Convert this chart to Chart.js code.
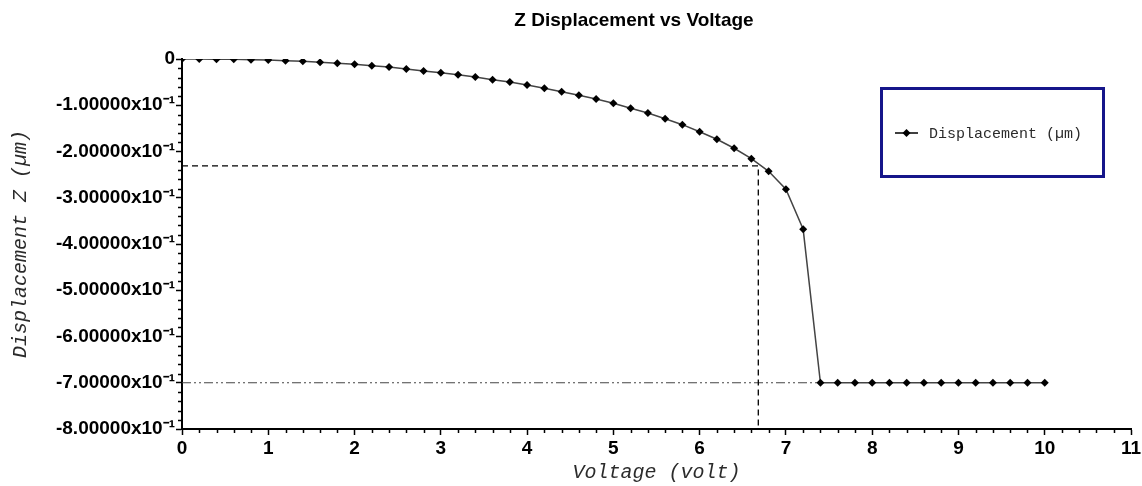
<!DOCTYPE html>
<html>
<head>
<meta charset="utf-8">
<script src="https://cdn.jsdelivr.net/npm/chart.js@4/dist/chart.umd.min.js"></script>
<style>
  body { margin: 0; background: #fff; }
</style>
</head>
<body>
<canvas id="zChart" width="1142" height="486"></canvas>
<script>
  // Data
  const voltage = [0, 0.2, 0.4, 0.6, 0.8, 1.0, 1.2, 1.4, 1.6, 1.8, 2.0, 2.2, 2.4, 2.6, 2.8, 3.0,
    3.2, 3.4, 3.6, 3.8, 4.0, 4.2, 4.4, 4.6, 4.8, 5.0, 5.2, 5.4, 5.6, 5.8, 6.0, 6.2, 6.4, 6.6,
    6.8, 7.0, 7.2, 7.4, 7.6, 7.8, 8.0, 8.2, 8.4, 8.6, 8.8, 9.0, 9.2, 9.4, 9.6, 9.8, 10.0];
  const displacement = [0, 0, -0.0003, -0.0007, -0.0015, -0.0022, -0.0037, -0.0050, -0.0071,
    -0.0093, -0.0115, -0.0145, -0.0173, -0.0216, -0.0259, -0.0296, -0.0339, -0.0389, -0.0448,
    -0.0497, -0.0562, -0.0633, -0.0709, -0.0785, -0.0865, -0.0958, -0.1066, -0.1167, -0.1291,
    -0.1420, -0.1572, -0.1736, -0.1930, -0.2156, -0.2428, -0.2817, -0.3682,
    -0.7, -0.7, -0.7, -0.7, -0.7, -0.7, -0.7, -0.7, -0.7, -0.7, -0.7, -0.7, -0.7, -0.7];

  // pull-in guide (dashed) and gap guide (dash-dot-dot)
  const pullInX = [0, 6.68, 6.68];
  const pullInY = [-0.231, -0.231, -0.8];
  const gapX = [0, 7.4];
  const gapY = [-0.7, -0.7];

  const xTickLabels = ['0', '1', '2', '3', '4', '5', '6', '7', '8', '9', '10', '11'];
  const yTickLabels = ['0', '-1.00000x10⁻¹', '-2.00000x10⁻¹', '-3.00000x10⁻¹', '-4.00000x10⁻¹',
    '-5.00000x10⁻¹', '-6.00000x10⁻¹', '-7.00000x10⁻¹', '-8.00000x10⁻¹'];

  function toPoints(xs, ys) {
    return xs.map(function (x, i) { return { x: x, y: ys[i] }; });
  }

  const tickFont = { family: 'Liberation Sans, Arial, sans-serif', size: 19, weight: 'bold' };
  const monoItalic = { family: 'Liberation Mono, Courier New, monospace', size: 20, style: 'italic' };

  // minor ticks, title and boxed legend
  const extras = {
    id: 'extras',
    afterDraw: function (chart) {
      const ctx = chart.ctx;
      const xs = chart.scales.x, ys = chart.scales.y;
      const area = chart.chartArea;
      ctx.save();
      ctx.strokeStyle = '#000';
      ctx.lineWidth = 1.5;
      ctx.beginPath();
      for (let i = 1; i < 55; i++) {
        if (i % 5 === 0) continue;
        const px = Math.round(xs.getPixelForValue(i * 0.2)) + 0.5;
        ctx.moveTo(px, area.bottom);
        ctx.lineTo(px, area.bottom + 4);
      }
      for (let i = 1; i < 40; i++) {
        if (i % 5 === 0) continue;
        const py = Math.round(ys.getPixelForValue(-i * 0.02)) + 0.5;
        ctx.moveTo(area.left, py);
        ctx.lineTo(area.left - 4, py);
      }
      ctx.stroke();

      // title
      ctx.fillStyle = '#000';
      ctx.font = 'bold 19px Liberation Sans, Arial, sans-serif';
      ctx.textAlign = 'center';
      ctx.textBaseline = 'middle';
      ctx.fillText('Z Displacement vs Voltage', 634, 21);

      // legend box
      ctx.strokeStyle = '#16168a';
      ctx.lineWidth = 3;
      ctx.strokeRect(881.5, 88.5, 222, 88);
      ctx.strokeStyle = '#000';
      ctx.lineWidth = 1.5;
      ctx.beginPath();
      ctx.moveTo(895, 133);
      ctx.lineTo(918, 133);
      ctx.stroke();
      ctx.fillStyle = '#000';
      ctx.beginPath();
      ctx.moveTo(906.5, 129);
      ctx.lineTo(910.5, 133);
      ctx.lineTo(906.5, 137);
      ctx.lineTo(902.5, 133);
      ctx.closePath();
      ctx.fill();
      ctx.fillStyle = '#2b2b2b';
      ctx.font = '15px Liberation Mono, Courier New, monospace';
      ctx.textAlign = 'left';
      ctx.fillText(chart.data.datasets[0].label, 929, 134);
      ctx.restore();
    }
  };

  new Chart(document.getElementById('zChart'), {
    type: 'line',
    data: {
      datasets: [{
        label: 'Displacement (µm)',
        data: toPoints(voltage, displacement),
        borderColor: '#444',
        borderWidth: 1.5,
        pointStyle: 'rectRot',
        pointRadius: 4,
        pointBackgroundColor: '#000',
        pointBorderColor: '#000',
        pointBorderWidth: 0,
        tension: 0,
        order: 0
      }, {
        label: 'pull-in',
        data: toPoints(pullInX, pullInY),
        borderColor: '#000',
        borderWidth: 1.3,
        borderDash: [6, 4],
        pointRadius: 0,
        order: 1
      }, {
        label: 'gap',
        data: toPoints(gapX, gapY),
        borderColor: '#444',
        borderWidth: 1,
        borderDash: [9, 3, 2, 3, 2, 3],
        pointRadius: 0,
        order: 2
      }]
    },
    options: {
      responsive: false,
      animation: false,
      devicePixelRatio: 1,
      layout: { padding: { left: 0, right: 11, top: 59, bottom: 0 } },
      plugins: {
        legend: { display: false },
        title: { display: false },
        tooltip: { enabled: false }
      },
      scales: {
        x: {
          type: 'linear',
          min: 0,
          max: 11,
          afterFit: function (s) { s.height = 57; s.paddingRight = 0; },
          border: { display: true, color: '#000', width: 2 },
          grid: { drawOnChartArea: false, tickLength: 6, tickWidth: 1.5, tickColor: '#000' },
          ticks: {
            stepSize: 1,
            padding: 2,
            color: '#000',
            font: tickFont,
            callback: function (value) { return xTickLabels[Math.round(value)]; }
          },
          title: {
            display: true,
            text: 'Voltage (volt)',
            color: '#2b2b2b',
            font: monoItalic,
            padding: { top: 0, bottom: 1 }
          }
        },
        y: {
          min: -0.8,
          max: 0,
          afterFit: function (s) { s.width = 182; },
          border: { display: true, color: '#000', width: 2 },
          grid: { drawOnChartArea: false, tickLength: 6, tickWidth: 1.5, tickColor: '#000' },
          ticks: {
            stepSize: 0.1,
            padding: 1,
            color: '#000',
            font: tickFont,
            callback: function (value) { return yTickLabels[Math.round(-value * 10)]; }
          },
          title: {
            display: true,
            text: 'Displacement Z (µm)',
            color: '#2b2b2b',
            font: monoItalic,
            padding: { top: 9, bottom: 0 }
          }
        }
      }
    },
    plugins: [extras]
  });
</script>
</body>
</html>
